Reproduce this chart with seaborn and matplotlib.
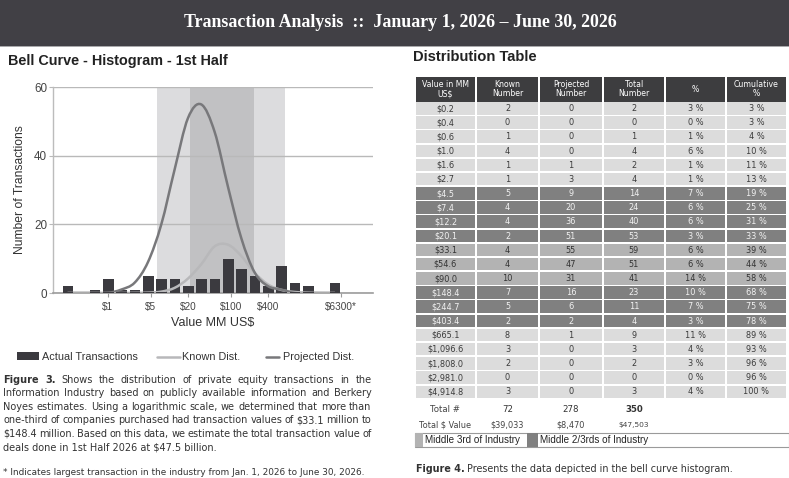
import numpy as np
import pandas as pd
import matplotlib
matplotlib.use("Agg")
from matplotlib import pyplot as plt
from matplotlib.path import Path
from matplotlib.patches import PathPatch, Rectangle
from matplotlib.ticker import NullLocator
import seaborn as sns

# ---- data ----------------------------------------------------------------
bin_value = [0.223, 0.368, 0.607, 1.0, 1.649, 2.718, 4.482, 7.389, 12.18, 20.09, 33.12,
             54.6, 90.02, 148.4, 244.7, 403.4, 665.1, 1096.6, 1808.0, 2981.0, 4914.8]
known = [2, 0, 1, 4, 1, 1, 5, 4, 4, 2, 4, 4, 10, 7, 5, 2, 8, 3, 2, 0, 3]
projected = [0, 0, 0, 0, 1, 3, 9, 20, 36, 51, 55, 47, 31, 16, 6, 2, 1, 0, 0, 0, 0]
total = [2, 0, 1, 4, 2, 4, 14, 24, 40, 53, 59, 51, 41, 23, 11, 4, 9, 3, 2, 0, 3]
pct = [3, 0, 1, 6, 1, 1, 7, 6, 6, 3, 6, 6, 14, 10, 7, 3, 11, 4, 3, 0, 4]
cum_pct = [3, 3, 4, 10, 11, 13, 19, 25, 31, 33, 39, 44, 58, 68, 75, 78, 89, 93, 96, 96, 100]
row_band = ["out"] * 6 + ["two"] * 4 + ["mid"] * 3 + ["two"] * 3 + ["out"] * 5
# known distribution curve, read at each bin
known_dist = [0, 0, 0, 0, 0, 0.05, 0.1, 0.4, 1.5, 4.2, 8.4, 13.6, 14.1, 10.8, 5.9, 2.5, 0.9, 0.3, 0.1, 0, 0]

totals_count = ["72", "278", "350"]
totals_value = ["$39,033", "$8,470", "$47,503"]

x_ticks = [1, 5, 20, 100, 400, 6300]
x_tick_labels = ["$1", "$5", "$20", "$100", "$400", "$6300*"]
y_ticks = [0, 20, 40, 60]

outer_band = (6.35, 772)
middle_band = (21.6, 238.6)

headers = ["Value in MM\nUS$", "Known\nNumber", "Projected\nNumber", "Total\nNumber", "%", "Cumulative\n%"]

caption3 = ["Figure 3. Shows the distribution of private equity transactions in the",
            "Information Industry based on publicly available information and Berkery",
            "Noyes estimates. Using a logarithmic scale, we determined that more than",
            "one-third of companies purchased had transaction values of $33.1 million to",
            "$148.4 million. Based on this data, we estimate the total transaction value of",
            "deals done in 1st Half 2026 at $47.5 billion."]
footnote = "* Indicates largest transaction in the industry from Jan. 1, 2026 to June 30, 2026."

# ---- colours --------------------------------------------------------------
bar_col = "#3b3a3f"
proj_col = "#78787b"
known_col = "#b8b8ba"
band_fill = {"out": "#dcdcdc", "mid": "#b3b3b3", "two": "#808080"}
band_text = {"out": "#3a3a3a", "mid": "#333333", "two": "#f2f2f2"}

sns.set_theme(style="white")
plt.rcParams["text.parse_math"] = False
plt.rcParams["font.family"] = ["Liberation Sans", "DejaVu Sans"]

fig = plt.figure(figsize=(7.89, 4.78), dpi=100)
bg = fig.add_axes([0, 0, 1, 1])
bg.set_xlim(0, 789)
bg.set_ylim(478, 0)
bg.axis("off")

# header band
bg.add_patch(Rectangle((0, 0), 789, 45.5, color="#414045", lw=0))
bg.add_patch(Rectangle((0, 45.5), 789, 1.8, color="#a9a9ab", lw=0))
bg.text(400, 22.5, "Transaction Analysis  ::  January 1, 2026 \u2013 June 30, 2026",
        ha="center", va="center", color="white", fontsize=12.9, fontweight="bold",
        family=["Liberation Serif", "DejaVu Serif"])
bg.text(8, 60.5, "Bell Curve - Histogram - 1st Half", ha="left", va="center",
        fontsize=10.4, fontweight="bold", color="#222222")
bg.text(413, 56.5, "Distribution Table", ha="left", va="center",
        fontsize=10.6, fontweight="bold", color="#222222")

# ---- histogram ------------------------------------------------------------
ax = fig.add_axes([53.3 / 789, 1 - 293 / 478, (373 - 53.3) / 789, (293 - 87.3) / 478])
ax.patch.set_alpha(0)
hist_df = pd.DataFrame({"value": bin_value, "known": known})
bw = 0.5 / np.log(10)
lo = np.log10(bin_value[0]) - bw / 2
sns.histplot(data=hist_df, x="value", weights="known", log_scale=True,
             bins=len(bin_value), binrange=(lo, lo + bw * len(bin_value)),
             shrink=0.8, color=bar_col, alpha=1, edgecolor="none", ax=ax, zorder=3)

ax.axvspan(*outer_band, color="#dcdcde", lw=0, zorder=0.2)
ax.axvspan(*middle_band, color="#c1c1c3", lw=0, zorder=0.3)


def smooth_path(xv, yv):
    lx = np.log(np.asarray(xv, float))
    y = np.asarray(yv, float)
    px = np.r_[lx[0], lx, lx[-1]]
    py = np.r_[y[0], y, y[-1]]
    verts = [(xv[0], y[0])]
    codes = [Path.MOVETO]
    for i in range(1, len(px) - 2):
        c1 = (px[i] + (px[i + 1] - px[i - 1]) / 6, py[i] + (py[i + 1] - py[i - 1]) / 6)
        c2 = (px[i + 1] - (px[i + 2] - px[i]) / 6, py[i + 1] - (py[i + 2] - py[i]) / 6)
        verts += [(np.exp(c1[0]), c1[1]), (np.exp(c2[0]), c2[1]), (np.exp(px[i + 1]), py[i + 1])]
        codes += [Path.CURVE4] * 3
    return Path(verts, codes)


clip = Rectangle((0.05, 0.35), 1e6, 100, transform=ax.transData)
for yv, col in [(known_dist, known_col), (projected, proj_col)]:
    pp = PathPatch(smooth_path(bin_value, yv), fill=False, edgecolor=col, lw=1.8, zorder=4,
                   capstyle="round")
    ax.add_patch(pp)
    pp.set_clip_path(clip)

ax.set_xlim(0.129, 20700)
ax.set_ylim(0, 60)
ax.set_xticks(x_ticks)
ax.set_xticklabels(x_tick_labels)
ax.xaxis.set_minor_locator(NullLocator())
ax.set_yticks(y_ticks)
ax.set_xlabel("")
ax.set_ylabel("")
ax.set_axisbelow(True)
ax.grid(axis="y", color="#b9b9b9", lw=1.0)
ax.grid(axis="x", visible=False)
for s in ["top", "right"]:
    ax.spines[s].set_visible(False)
ax.spines["left"].set_color("#bcbcbc")
ax.spines["left"].set_linewidth(1.0)
ax.spines["bottom"].set_color("#9c9c9c")
ax.spines["bottom"].set_linewidth(1.2)
ax.tick_params(axis="x", length=3, width=0.8, color="#9c9c9c", labelsize=7.2,
               labelcolor="#444444", pad=3.5, bottom=True)
ax.tick_params(axis="y", length=3, width=0.8, color="#b9b9b9", labelsize=8.4,
               labelcolor="#444444", pad=1.5, left=True)

bg.text(20, 190, "Number of Transactions", rotation=90, ha="center", va="center",
        fontsize=8.7, color="#333333")
bg.text(213, 323, "Value MM US$", ha="center", va="center", fontsize=9, color="#333333")

# legend
bg.add_patch(Rectangle((17, 352), 22, 8, color=bar_col, lw=0))
bg.text(42, 356.5, "Actual Transactions", ha="left", va="center", fontsize=7.8, color="#333333")
bg.plot([157, 180], [356.5, 356.5], color=known_col, lw=1.8)
bg.text(182, 356.5, "Known Dist.", ha="left", va="center", fontsize=7.8, color="#333333")
bg.plot([266, 279], [356.5, 356.5], color=proj_col, lw=1.8)
bg.text(283, 356.5, "Projected Dist.", ha="left", va="center", fontsize=7.8, color="#333333")

# ---- justified caption ----------------------------------------------------
renderer = fig.canvas.get_renderer()
cap_kw = dict(color="#333333", va="center", ha="left", family=["DejaVu Sans"])
x0, x1 = 3.5, 371.5
for i, line in enumerate(caption3):
    yy = 380 + i * 13.4
    if i == len(caption3) - 1:
        bg.text(x0, yy, line, fontsize=7.0, **cap_kw)
        continue
    words = line.split(" ")
    arts = []
    for j, w in enumerate(words):
        wt = "bold" if (i == 0 and j < 2) else "normal"
        arts.append(bg.text(x0, yy, w, fontweight=wt, fontsize=7.0, **cap_kw))
    widths = [a.get_window_extent(renderer).width for a in arts]
    gap = (x1 - x0 - sum(widths)) / (len(words) - 1)
    xx = x0
    for a, wd in zip(arts, widths):
        a.set_x(xx)
        xx += wd + gap
bg.text(x0, 472.5, footnote, fontsize=6.4, **cap_kw)

# ---- distribution table ---------------------------------------------------
col_edges = [415, 476, 539, 603, 665, 726, 787]
col_mid = [(a + b) / 2 for a, b in zip(col_edges[:-1], col_edges[1:])]
tb_kw = dict(ha="center", va="center", family=["DejaVu Sans"])
for c in range(6):
    bg.add_patch(Rectangle((col_edges[c] + 1, 77), col_edges[c + 1] - col_edges[c] - 2, 24.5,
                           color="#3d3d3f", lw=0))
    bg.text(col_mid[c], 89.3, headers[c], color="white", fontsize=5.6, linespacing=1.05, **tb_kw)

row0, pitch = 108.3, 14.17
for r in range(len(bin_value)):
    yc = row0 + r * pitch
    cells = ["${:,.1f}".format(bin_value[r]), str(known[r]), str(projected[r]), str(total[r]),
             "{} %".format(pct[r]), "{} %".format(cum_pct[r])]
    for c in range(6):
        bg.add_patch(Rectangle((col_edges[c] + 1, yc - 6.2), col_edges[c + 1] - col_edges[c] - 2,
                               12.4, color=band_fill[row_band[r]], lw=0))
        bg.text(col_mid[c], yc + 0.3, cells[c], color=band_text[row_band[r]], fontsize=5.9, **tb_kw)

bg.text(col_mid[0], 409, "Total #", color="#444444", fontsize=6.2, **tb_kw)
bg.text(col_mid[0], 425, "Total $ Value", color="#444444", fontsize=5.9, **tb_kw)
for c in range(3):
    bg.text(col_mid[c + 1], 409, totals_count[c], color="#333333", fontsize=6.2,
            fontweight="bold" if c == 2 else "normal", **tb_kw)
    bg.text(col_mid[c + 1], 425, totals_value[c], color="#444444",
            fontsize=5.9 if c < 2 else 5.4, **tb_kw)

# table legend row
bg.add_patch(Rectangle((415, 433), 374, 14, facecolor="white", edgecolor="#9a9a9a", lw=0.8))
bg.add_patch(Rectangle((415, 433), 8, 14, color=band_fill["mid"], lw=0))
bg.add_patch(Rectangle((527, 433), 11, 14, color=band_fill["two"], lw=0))
bg.text(425, 440, "Middle 3rd of Industry", ha="left", va="center", fontsize=7.1, color="#222222")
bg.text(540, 440, "Middle 2/3rds of Industry", ha="left", va="center", fontsize=7.1, color="#222222")

f4 = bg.text(416, 469, "Figure 4.", fontweight="bold", fontsize=6.9, **cap_kw)
w4 = f4.get_window_extent(renderer).width
bg.text(416 + w4 + 2.5, 469, "Presents the data depicted in the bell curve histogram.",
        fontsize=6.9, **cap_kw)

fig.savefig("out.png", dpi=100)
